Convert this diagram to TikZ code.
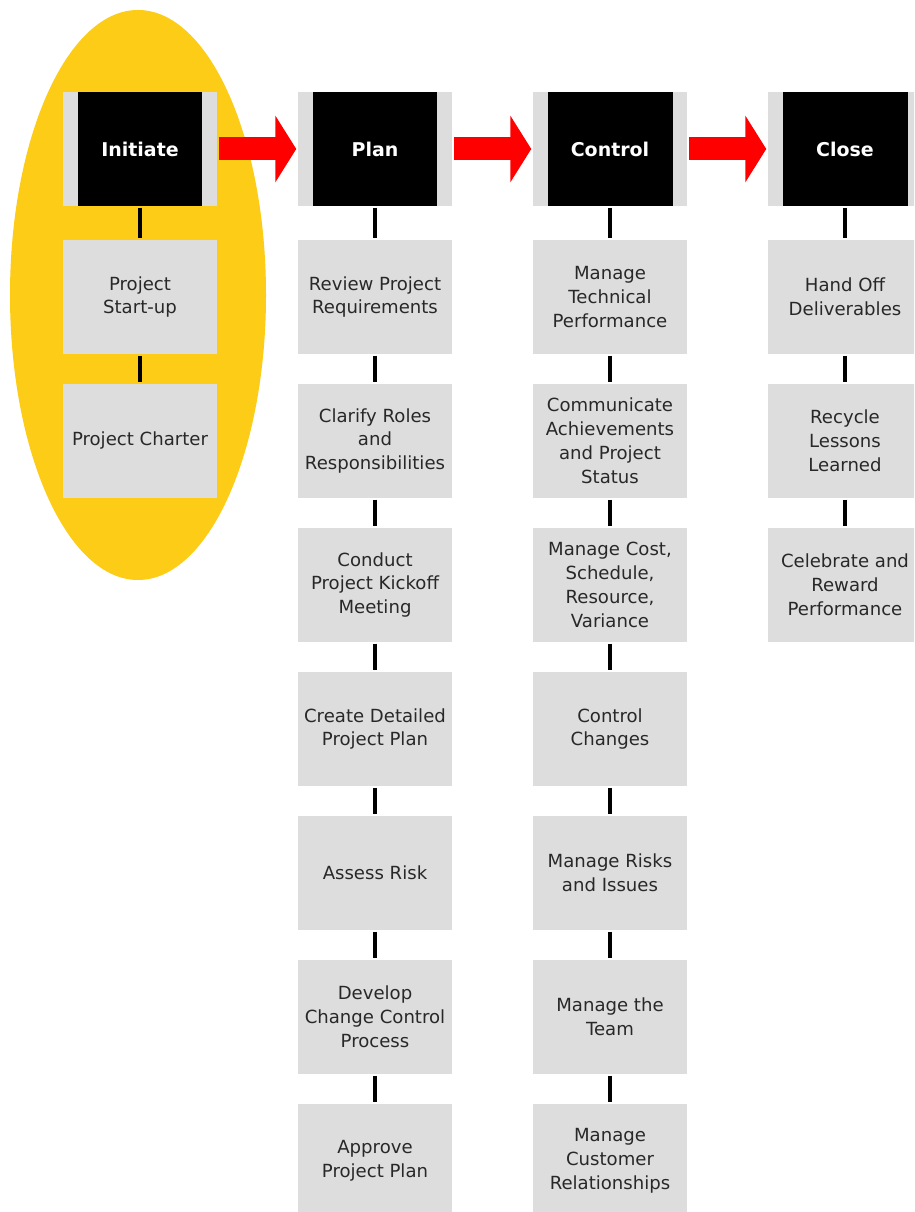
\documentclass[tikz,border=0pt]{standalone}
\usepackage{fontspec}
\setmainfont{DejaVu Sans}
\usetikzlibrary{arrows.meta}
\definecolor{phaseyellow}{RGB}{252,204,22}
\definecolor{boxgrey}{RGB}{221,221,221}
\definecolor{textgrey}{RGB}{40,40,40}
\begin{document}
\begin{tikzpicture}[x=0.02cm, y=-0.02cm, line width=2pt, font=\fontsize{10.3}{13.6}\selectfont]
\tikzset{
  phasebar/.style={fill=boxgrey, minimum width=3.08cm, minimum height=2.28cm, inner sep=0pt},
  phasehead/.style={fill=black, text=white, font=\fontsize{10.8}{13.6}\selectfont\bfseries, minimum width=2.5cm, minimum height=2.28cm, inner sep=0pt},
  taskbox/.style={fill=boxgrey, text=textgrey, align=center, minimum width=3.08cm, minimum height=2.28cm, inner sep=0pt},
  flowarrow/.style={draw=red, line width=0.46cm, -{Triangle[length=0.42cm, width=1.32cm]}},
  link/.style={draw=black}
}
\clip (0,0) rectangle (914,1212);
\fill[white] (0,0) rectangle (914,1212);

% highlight of the first phase
\fill[phaseyellow] (138,295) ellipse [x radius=128, y radius=285];

% phase headers
\node[phasebar] (g1) at (140,149) {};
\node[phasebar] (g2) at (375,149) {};
\node[phasebar] (g3) at (610,149) {};
\node[phasebar] (g4) at (845,149) {};
\node[phasehead] (h1) at (140,149) {Initiate};
\node[phasehead] (h2) at (375,149) {Plan};
\node[phasehead] (h3) at (610,149) {Control};
\node[phasehead] (h4) at (845,149) {Close};

\draw[flowarrow] (g1.east) -- (g2.west);
\draw[flowarrow] (g2.east) -- (g3.west);
\draw[flowarrow] (g3.east) -- (g4.west);

% Initiate
\node[taskbox] (i1) at (140,297) {Project\\Start-up};
\node[taskbox] (i2) at (140,441) {Project Charter};

% Plan
\node[taskbox] (p1) at (375,297) {Review Project\\Requirements};
\node[taskbox] (p2) at (375,441) {Clarify Roles\\and\\Responsibilities};
\node[taskbox] (p3) at (375,585) {Conduct\\Project Kickoff\\Meeting};
\node[taskbox] (p4) at (375,729) {Create Detailed\\Project Plan};
\node[taskbox] (p5) at (375,873) {Assess Risk};
\node[taskbox] (p6) at (375,1017) {Develop\\Change Control\\Process};
\node[taskbox] (p7) at (375,1161) {Approve\\Project Plan};

% Control
\node[taskbox] (c1) at (610,297) {Manage\\Technical\\Performance};
\node[taskbox] (c2) at (610,441) {Communicate\\Achievements\\and Project\\Status};
\node[taskbox] (c3) at (610,585) {Manage Cost,\\Schedule,\\Resource,\\Variance};
\node[taskbox] (c4) at (610,729) {Control\\Changes};
\node[taskbox] (c5) at (610,873) {Manage Risks\\and Issues};
\node[taskbox] (c6) at (610,1017) {Manage the\\Team};
\node[taskbox] (c7) at (610,1161) {Manage\\Customer\\Relationships};

% Close
\node[taskbox] (k1) at (845,297) {Hand Off\\Deliverables};
\node[taskbox] (k2) at (845,441) {Recycle\\Lessons\\Learned};
\node[taskbox] (k3) at (845,585) {Celebrate and\\Reward\\Performance};

% links
\draw[link] (h1) -- (i1);
\draw[link] (i1) -- (i2);
\draw[link] (h2) -- (p1);
\draw[link] (p1) -- (p2);
\draw[link] (p2) -- (p3);
\draw[link] (p3) -- (p4);
\draw[link] (p4) -- (p5);
\draw[link] (p5) -- (p6);
\draw[link] (p6) -- (p7);
\draw[link] (h3) -- (c1);
\draw[link] (c1) -- (c2);
\draw[link] (c2) -- (c3);
\draw[link] (c3) -- (c4);
\draw[link] (c4) -- (c5);
\draw[link] (c5) -- (c6);
\draw[link] (c6) -- (c7);
\draw[link] (h4) -- (k1);
\draw[link] (k1) -- (k2);
\draw[link] (k2) -- (k3);
\end{tikzpicture}
\end{document}
